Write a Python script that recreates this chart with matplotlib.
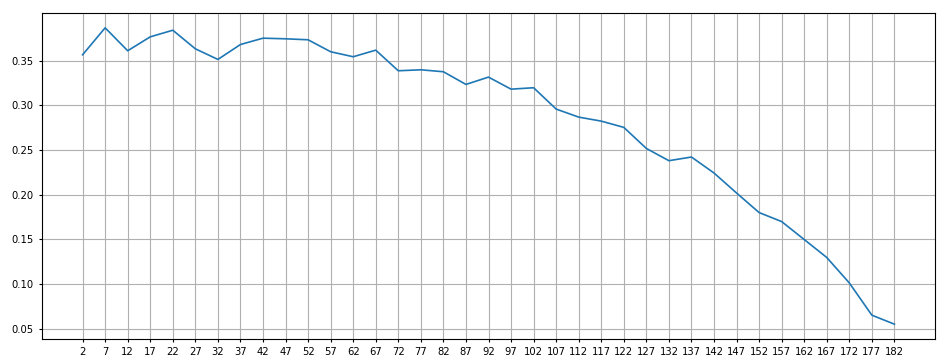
import matplotlib.pyplot as plt
import numpy as np

# x positions (every 5th epoch starting at 2)
x = [2, 7, 12, 17, 22, 27, 32, 37, 42, 47, 52, 57, 62, 67, 72, 77, 82, 87, 92,
     97, 102, 107, 112, 117, 122, 127, 132, 137, 142, 147, 152, 157, 162, 167,
     172, 177, 182]
y = [0.3567, 0.3869, 0.3612, 0.3768, 0.3842, 0.3634, 0.3515, 0.3682, 0.3753,
     0.3746, 0.3735, 0.3601, 0.3545, 0.3619, 0.3388, 0.3399, 0.3377, 0.3235,
     0.3317, 0.3182, 0.3198, 0.2959, 0.2869, 0.2824, 0.2754, 0.2518, 0.2381,
     0.2422, 0.2243, 0.2019, 0.1800, 0.1699, 0.1498, 0.1297, 0.1012, 0.0651,
     0.0550]
yticks = [0.05, 0.10, 0.15, 0.20, 0.25, 0.30, 0.35]

plt.rcParams['font.size'] = 7.2
plt.rcParams['xtick.major.size'] = 2.4
plt.rcParams['ytick.major.size'] = 2.4

fig = plt.figure(figsize=(9.46, 3.63), dpi=100)
fig.subplots_adjust(left=42/946, right=935/946, bottom=1-339/363, top=1-13/363)
plt.plot(x, y, linewidth=1.2)
plt.xticks(x)
plt.yticks(yticks)
plt.grid(True)
plt.savefig("out.png", dpi=100)
